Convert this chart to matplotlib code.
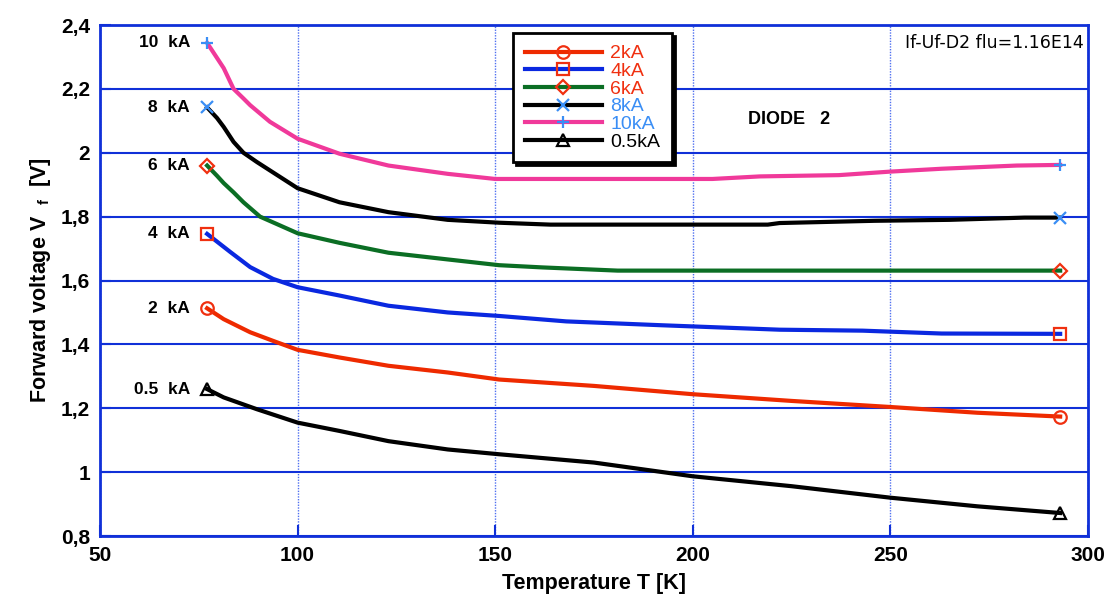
import matplotlib
matplotlib.use("Agg")
import matplotlib.pyplot as plt
from matplotlib.ticker import FuncFormatter

plt.rcParams['font.family'] = ['Liberation Sans', 'DejaVu Sans']
plt.rcParams['mathtext.fontset'] = 'custom'
plt.rcParams['mathtext.bf'] = 'Liberation Sans:bold'
plt.rcParams['mathtext.rm'] = 'Liberation Sans'

# data: temperature [K] and forward voltage [V]
t_10 = [77.1, 79.6, 81.3, 83.8, 86.3, 88, 93, 100, 110.6, 123, 138, 150, 205, 217, 237, 250, 263, 282, 293]
v_10 = [2.344, 2.297, 2.265, 2.2, 2.17, 2.149, 2.097, 2.044, 1.997, 1.96, 1.934, 1.918, 1.918, 1.926, 1.93, 1.941, 1.95, 1.96, 1.962]

t_8 = [77.1, 79.6, 81.3, 83.8, 86.3, 89.7, 100, 110.6, 123, 138, 151, 164, 219, 222, 246, 265, 284, 293]
v_8 = [2.142, 2.109, 2.081, 2.034, 2.0, 1.971, 1.889, 1.845, 1.814, 1.79, 1.781, 1.775, 1.775, 1.78, 1.787, 1.79, 1.797, 1.797]

t_6 = [77.1, 79.6, 81.3, 83.8, 86.3, 90.5, 93.8, 100, 110.6, 123, 138, 151, 162, 181, 293]
v_6 = [1.96, 1.928, 1.905, 1.876, 1.845, 1.80, 1.782, 1.748, 1.718, 1.687, 1.666, 1.648, 1.641, 1.631, 1.631]

t_4 = [77.1, 80, 83, 88, 93.8, 100, 110.6, 123, 138, 151, 168, 192, 222, 243, 263, 293]
v_4 = [1.746, 1.718, 1.689, 1.642, 1.605, 1.579, 1.553, 1.521, 1.50, 1.489, 1.472, 1.46, 1.446, 1.443, 1.434, 1.433]

t_2 = [77.1, 81.3, 88, 93.8, 100, 110.6, 123, 138, 151, 175, 200, 225, 250, 272, 293]
v_2 = [1.513, 1.479, 1.438, 1.411, 1.383, 1.359, 1.333, 1.312, 1.29, 1.27, 1.244, 1.223, 1.204, 1.186, 1.174]

t_05 = [77.1, 81.3, 89.7, 100, 110.6, 123, 138, 151, 175, 200, 225, 250, 272, 293]
v_05 = [1.26, 1.234, 1.197, 1.155, 1.129, 1.097, 1.071, 1.056, 1.03, 0.987, 0.956, 0.92, 0.893, 0.872]

labels = ['2kA', '4kA', '6kA', '8kA', '10kA', '0.5kA']
side_labels = ['2  kA', '4  kA', '6  kA', '8  kA', '10  kA', '0.5  kA']

BLUE = '#1030d8'
MRED = '#f03010'
MBLUE = '#3a8ef5'

series = [
    (t_2, v_2, '#ee2a00', 'o', MRED),
    (t_4, v_4, '#0a28e0', 's', MRED),
    (t_6, v_6, '#0b6e24', 'D', MRED),
    (t_8, v_8, 'black', 'x', MBLUE),
    (t_10, v_10, '#f0399a', '+', MBLUE),
    (t_05, v_05, 'black', '^', 'black'),
]

fig = plt.figure(figsize=(11.09, 6.03), dpi=100)
ax = fig.add_axes([0.0902, 0.1111, 0.8907, 0.8474])

for (t, v, col, mk, mcol), lab, slab in zip(series, labels, side_labels):
    ms = 9 if mk != 'D' else 7
    ax.plot(t, v, color=col, lw=3, marker=mk, markevery=[0, -1],
            markersize=ms, markerfacecolor='none', markeredgecolor=mcol,
            markeredgewidth=1.6, label=lab)
    ax.text(72.8, v[0], slab, ha='right', va='center', fontsize=12.5,
            fontweight='bold')

ax.set_xlim(50, 300)
ax.set_ylim(0.8, 2.4)
ax.set_xticks([50, 100, 150, 200, 250, 300])
ax.set_yticks([0.8, 1.0, 1.2, 1.4, 1.6, 1.8, 2.0, 2.2, 2.4])
ax.yaxis.set_major_formatter(FuncFormatter(lambda y, p: ('%g' % round(y, 2)).replace('.', ',')))

ax.grid(axis='y', color=BLUE, lw=1.5, ls='-')
ax.grid(axis='x', color='#5070f0', lw=1.0, ls=(0, (1, 1)))
for s in ax.spines.values():
    s.set_color(BLUE)
    s.set_linewidth(2)
ax.tick_params(direction='in', length=8, width=1.5, color=BLUE,
               labelsize=15, pad=7)
for lbl in ax.get_xticklabels() + ax.get_yticklabels():
    lbl.set_fontweight('bold')

ax.set_xlabel('Temperature T [K]', fontsize=15.5, fontweight='bold', labelpad=6)
ax.set_ylabel(r'Forward voltage V  $_{\mathbf{f}}$  [V]', fontsize=15.5,
              fontweight='bold', labelpad=6)

ax.text(214, 2.103, 'DIODE   2', fontsize=13, fontweight='bold', va='center')
ax.text(0.996, 0.965, 'If-Uf-D2 flu=1.16E14', transform=ax.transAxes,
        ha='right', va='center', fontsize=12.5, family=['DejaVu Sans'])

leg = ax.legend(loc='upper left', bbox_to_anchor=(0.418, 0.984), fontsize=14,
                labelspacing=0.0, handlelength=4.0, handletextpad=0.4,
                borderpad=0.6, borderaxespad=0, fancybox=False, framealpha=1,
                shadow={'color': 'black', 'alpha': 1})
leg.get_frame().set_edgecolor('black')
leg.get_frame().set_linewidth(2)
for txt, (_, _, _, _, mcol) in zip(leg.get_texts(), series):
    txt.set_color(mcol)

fig.savefig('out.png', dpi=100)
